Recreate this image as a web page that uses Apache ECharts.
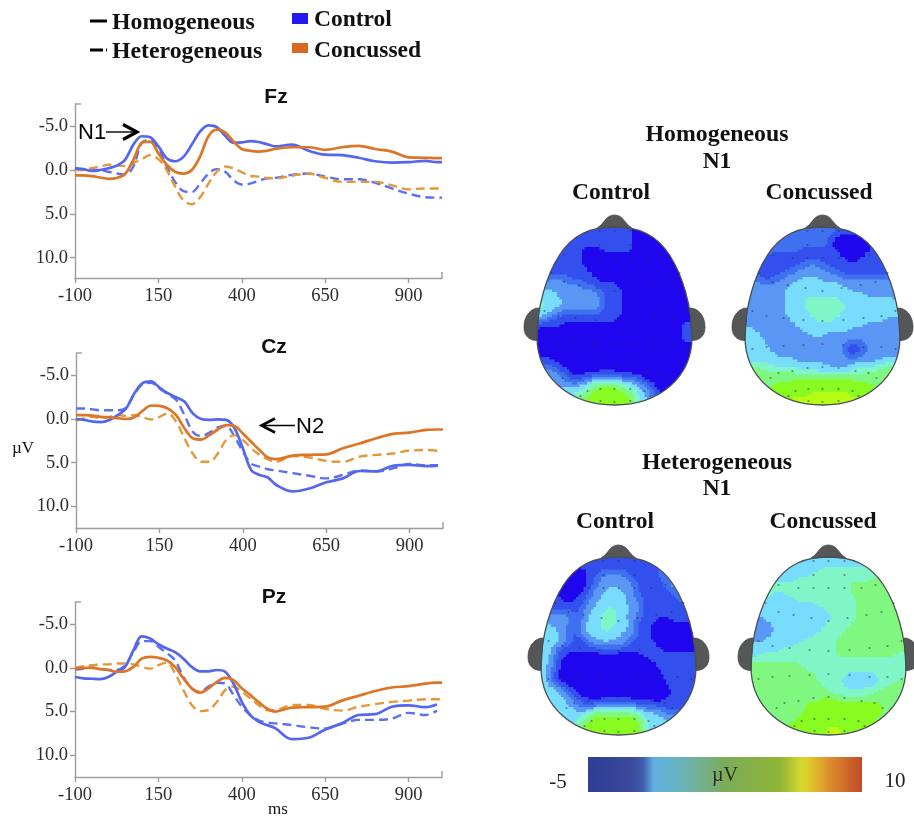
<!DOCTYPE html>
<html><head><meta charset="utf-8">
<style>html,body{margin:0;padding:0;background:#fff}#c{width:914px;height:818px;filter:blur(0.45px)}</style>
<script src="https://cdn.jsdelivr.net/npm/echarts@6/dist/echarts.min.js"></script>
</head><body><div id="c"></div>
<script>
const times=[-100,-75,-50,-25,0,25,50,75,100,125,150,175,200,225,250,275,300,325,350,375,400,425,450,475,500,550,600,650,700,750,800,850,900,950,985,1000];
const xTicks=[-100,150,400,650,900];
const yTicks=[-5,0,5,10];

const fzHomControl=[-0.2,-0.1,0.1,0,-0.2,-0.5,-1.15,-2.9,-3.85,-3.75,-2.7,-1.35,-1,-1.5,-2.9,-4.4,-5.1,-4.9,-3.9,-3.1,-3.15,-3.3,-3.2,-2.95,-2.7,-2.9,-2.2,-1.75,-1.7,-1.4,-1,-0.85,-0.9,-1.05,-0.9,-0.9];
const fzHomConcussed=[0.6,0.6,0.7,0.85,1,0.9,0.45,-1.15,-3.1,-3.25,-1.9,-0.6,0.2,0.4,0,-1.55,-3.85,-4.6,-4.3,-3.25,-2.4,-2.2,-2.1,-2.2,-2.4,-2.6,-2.6,-2.3,-2.6,-2.75,-2.4,-2.1,-1.45,-1.4,-1.35,-1.35];
const fzHetControl=[-0.2,-0.1,0,0,0.2,0.4,0.5,-0.4,-3.1,-3.4,-2.5,-0.4,1.35,2.4,2.5,1.55,0.4,-0.1,0.2,1.15,1.65,1.55,1.25,0.95,0.9,0.55,0.4,0.75,1.05,1.05,1.45,2.1,2.7,3.1,3.15,3.15];
const fzHetConcussed=[0,0,-0.2,-0.4,-0.6,-0.5,-0.45,-0.8,-1.25,-1.7,-1.25,0,1.9,3.45,3.9,3.1,1.55,0.2,-0.4,-0.2,0.25,0.65,0.75,0.9,0.95,0.65,0.4,0.9,1.35,1.35,1.35,1.75,2.2,2.1,2.1,2.1];

const czHomControl=[0,0.1,0.3,0.35,0.1,-0.45,-1.2,-2.95,-4.1,-4.3,-3.6,-2.95,-2.5,-2,-0.65,0,0.1,0.05,0.1,1.05,3.35,5.85,6.4,6.7,7.55,8.3,7.95,7.25,6.8,5.95,6,5.35,5.25,5.4,5.3,null];
const czHomConcussed=[-0.45,-0.45,-0.4,-0.25,-0.2,-0.1,0,-0.2,-0.95,-1.55,-1.5,-1.2,-0.45,1.05,2.2,2.35,1.85,1.2,0.7,0.8,1.65,2.6,3.55,4.4,4.6,4.2,4.1,4.05,3.35,2.8,2.2,1.7,1.55,1.25,1.2,1.2];
const czHetControl=[-1.2,-1.2,-1.1,-1,-1,-1,-1.3,-2.85,-4,-4.15,-3.5,-2.85,-2.2,-0.45,1.45,1.95,1.55,0.95,0.8,2,3.75,5.1,5.45,5.75,5.9,6.2,6.5,6.8,6.4,5.9,6,5.65,5.15,5.3,5.3,null];
const czHetConcussed=[0.2,-0.1,-0.25,-0.1,-0.25,-0.45,-0.35,-0.45,-0.2,0.05,-0.25,-0.65,0.3,2.2,3.95,4.9,4.9,3.95,2.4,1.85,2.4,3.35,4.1,4.6,4.9,4.25,4.4,4.8,4.9,4.3,4.1,3.95,3.6,3.55,3.65,null];

const pzHomControl=[1.05,1.2,1.25,1.3,1.05,0.45,-0.1,-2,-3.6,-3.35,-2.7,-2.2,-1.8,-1.05,-0.1,0.4,0.4,0.25,0.45,1.8,3.9,5.4,6.15,6.55,6.9,8.15,8,7.05,6.35,5.4,5.3,4.45,4.3,4.5,4.2,null];
const pzHomConcussed=[0.1,0,0,0.15,0.25,0.45,0.4,-0.1,-1.05,-1.25,-1.15,-0.85,-0.1,1.2,2.35,2.85,2.35,1.6,1.15,1.4,2.35,3.1,3.9,4.65,5,4.55,4.5,4.45,3.75,3.2,2.65,2.25,2.1,1.8,1.7,1.7];
const pzHetControl=[0.2,0.1,-0.05,0.1,0.25,0.25,-0.3,-1.8,-3.05,-3.05,-2.4,-1.7,-0.85,1.05,2.35,2.75,2.15,1.7,1.8,3.1,4.45,5.4,6,6.25,6.35,6.55,6.8,6.95,6.4,5.95,5.95,5.8,5.15,5.4,4.9,null];
const pzHetConcussed=[0,-0.2,-0.3,-0.4,-0.4,-0.5,-0.5,-0.4,-0.1,0.1,-0.3,-0.6,0.65,2.55,4.25,4.95,4.85,3.9,2.55,2.15,2.75,3.5,4.25,4.85,4.85,4.25,4.25,4.7,4.9,4.45,4.15,3.9,3.75,3.6,3.6,3.6];

// scalp maps: run-length rows "level:count", last run fills the row
const homControlMap=["1:19 0","1:19 0","1:19 0","1:19 0","1:9 0:4 1:6 0","1:9 0:17 1:2 0","1:9 0:18 1:2 0","1:9 0:19 1:2 0","1:10 0:19 1:1 0","1:11 0","1:2 3:4 1:6 0","1:1 3:8 1:7 0","3:1 4:2 3:9 1:5 0","4:4 3:9 1:4 0","5:1 4:4 3:8 1:4 0","6:1 4:4 3:8 1:4 0","5:1 4:3 3:9 1:4 0","4:2 3:2 1:13 0","3:2 1:14 0","1:5 0:24 1","0:29 1","0:29 1","0:29 1","0","0","0","1:3 0","1:4 0","3:4 1:2 0","3:5 1:2 0:5 1:4 0","3:6 1:3 3:2 4:6 3:3 1:1 0","3:9 4:2 6:6 4:3 3:2 1:1 0","4:9 5:2 7:6 6:2 4:2 3:2 1:1 0","4:8 6:2 7:8 6:2 4:2 3:1 1:2 0","6:10 7:9 6:1 4:2 3","6:10 7:9 6:1 4"];
const homConcussedMap=["2","2:18 0:5 1:2 2","2:17 0:8 1:2 2","2:17 0:9 1","2:11 1:7 0:7 1","2:5 1:14 0:5 1","1:20 0:3 1","1:12 3:3 1","1:10 3:7 1","1:8 3:11 1","3:3 1:3 3:5 4:4 3","3:9 4:10 3","3:8 4:13 3","3:8 4:16 3","3:8 4:4 5:7 4:11 3","3:8 4:4 5:8 4","3:8 4:4 5:8 4","3:8 4:5 5:6 4","3:9 4:5 5:4 4:10 3","3:10 4:14 3","4:2 3:9 4:10 3","4:3 3:10 4:3 3","4:4 3","4:4 3:16 1:4 3","4:5 3:15 1:4 3","4:6 3:14 1:3 3","4:10 3:18 4","5:5 4:11 3:6 4:5 5","6:4 5:6 4:11 5:5 6","6:12 5:11 6","6:10 7:12 6","6:6 7:19 6","7","7:13 8:8 7","7:9 8:13 7","8"];
const hetControlMap=["1","1","1:7 0:2 1:15 3:2 1","1:6 0:3 1:3 3:5 1:7 3:2 1","1:5 0:4 1:2 3:7 1:7 3:2 1","1:4 0:5 1:2 3:8 1:6 3:3 1","1:3 0:6 1:1 3:3 4:3 3:3 1:7 3:2 1","1:3 0:5 1:2 3:2 4:5 3:2 1:8 3:2 1","1:4 0:3 1:2 3:3 4:5 3:3 1:8 3:2 1","1:9 3:2 4:6 3:3 1","1:8 3:2 4:3 5:2 4:3 3:2 1","3:6 1:2 3:2 4:2 5:3 4:2 3:3 1","3:7 1:1 3:1 4:3 5:3 4:2 3:2 1:4 0:3 1","4:2 3:4 1:2 3:1 4:3 5:3 4:3 3:1 1:3 0","4:3 3:2 1:2 3:1 4:4 5:2 4:3 3:2 1:3 0","4:4 3:2 1:2 3:1 4:7 3:3 1:3 0","4:4 3:2 1:3 3:2 4:4 3:3 1:4 0","4:3 3:2 1:5 3:7 1:6 0","4:2 3:1 1:21 0","4:2 3:1 1:2 0:15 1","4:2 3:1 1:1 0:18 1","4:1 3:2 0:20 1","4:1 3:2 0:21 1","4:1 3:1 1:1 0:21 1","4:1 3:1 1:1 0:22 1","4:2 3:1 1:1 0:21 1","4:4 3:1 1:1 0:20 1","4:4 3:2 1:1 0:19 1","4:5 3:2 1:3 0:15 1","4:5 3:3 1:3 3:8 1:8 0:2 1","4:7 3:3 4:10 3:4 1","4:9 6:1 7:8 6:2 4:4 3","4:8 6:2 7:9 6:2 4:4 3","4:7 6:2 7:11 6:1 4:5 3","6:9 7:11 6:1 4","6:9 7:11 6:1 4"];
const hetConcussedMap=["4","4:24 5","4:14 5","4:12 5","4:9 5:15 6","5:19 6","5:20 6","5:4 4:3 5:13 6","5:3 4:6 5:12 6","5:2 4:11 5:8 6","4:15 5:6 6","4:16 5:5 6","3:3 4:13 5:5 6","3:4 4:11 5:5 6","3:5 4:9 5:5 6","3:4 4:9 5:5 6","3:3 4:8 5:6 6","4:9 5:8 6","4:6 5:11 6","4:2 5:15 6:12 5","5","6:10 5","6:11 5","6:13 5:6 4:6 5","6:13 5:5 4:8 5:4 6","6:14 5:4 4:7 5:3 6","6:15 5:5 4:2 5:4 6","6:16 5:8 6","6:14 7:4 6","6:11 7:15 6","6:11 7:16 6","6:10 7:16 6","6:9 7:16 6","6:8 7:16 6","7:15 8:3 7","7:15 8:3 7"];
const levelColors=["#1f06ee","#3350ee","#3f70f0","#5a96f3","#78dcfc","#80f6c8","#80f880","#88fc20","#b8fc14"];
const electrodes=[[-15,4],[0,4],[16,4],[-15,18],[16,18],[-50,28],[-30,31],[-15,31],[0,31],[16,31],[33,31],[47,28],[-63,46],[65,46],[-50,55],[-35,58],[-17,61],[0,64],[19,61],[38,58],[53,55],[-70,84],[-56,89],[-39,91],[-19,93],[0,94],[21,93],[41,91],[59,89],[73,84],[-70,122],[-56,120],[-39,119],[-19,118],[0,117],[21,118],[41,120],[59,120],[73,122],[-52,151],[-44,146],[-30,144],[-15,141],[0,140],[16,141],[33,144],[46,146],[54,151],[-34,169],[-27,164],[-14,162],[0,162],[16,162],[30,164],[36,169],[-14,174],[0,175],[16,174]];

const BLUE='#5366f0',ORANGE='#dc7626',ORANGE_D='#e3983a',BLUE_D='#5a70f0';
const panels=[
 {name:'Fz',left:75,top:104,h:174,min:-7.53,max:12.31,hom:[fzHomControl,fzHomConcussed],het:[fzHetControl,fzHetConcussed]},
 {name:'Cz',left:76,top:353,h:175,min:-7.56,max:12.48,hom:[czHomControl,czHomConcussed],het:[czHetControl,czHetConcussed]},
 {name:'Pz',left:75,top:602,h:175,min:-7.53,max:12.49,hom:[pzHomControl,pzHomConcussed],het:[pzHetControl,pzHetConcussed]}
];
const heads=[
 {left:537,top:227,map:homControlMap},
 {left:745,top:227,map:homConcussedMap},
 {left:541,top:557,map:hetControlMap},
 {left:751,top:557,map:hetConcussedMap}
];
const axisGray='#9c9c9c',ink='#2b2b2b';
const grid=[],xAxis=[],yAxis=[],series=[];
panels.forEach((p,i)=>{
 grid.push({left:p.left,top:p.top,width:367,height:p.h});
 xAxis.push({type:'value',gridIndex:i,min:-100,max:1000,splitLine:{show:false},
  axisLine:{onZero:false,lineStyle:{color:axisGray,width:1.4}},
  axisTick:{customValues:xTicks,length:5,lineStyle:{color:axisGray,width:1.4}},
  axisLabel:{customValues:xTicks,color:ink,fontFamily:'Liberation Serif',fontSize:18.5,margin:9}});
 yAxis.push({type:'value',gridIndex:i,inverse:true,min:p.min,max:p.max,splitLine:{show:false},
  axisLine:{onZero:false,lineStyle:{color:axisGray,width:1.4}},
  axisTick:{customValues:yTicks,length:5,lineStyle:{color:axisGray,width:1.4}},
  axisLabel:{customValues:yTicks,color:ink,fontFamily:'Liberation Serif',fontSize:18.5,margin:7,formatter:v=>Number(v).toFixed(1)}});
 const line=(vals,color,dash,w,name)=>series.push({type:'line',name:name,xAxisIndex:i,yAxisIndex:i,
  data:times.map((t,k)=>[t,vals[k]]),smooth:0.35,showSymbol:false,connectNulls:false,animation:false,clip:false,
  lineStyle:{color:color,width:w,type:dash?[9,5]:'solid'},silent:true});
 line(p.het[0],BLUE_D,true,2.4,p.name+' Heterogeneous Control');
 line(p.het[1],ORANGE_D,true,2.4,p.name+' Heterogeneous Concussed');
 line(p.hom[0],BLUE,false,2.7,p.name+' Homogeneous Control');
 line(p.hom[1],ORANGE,false,2.7,p.name+' Homogeneous Concussed');
});
// parse rows, soften the cell edges, then draw contour bands at half-cell resolution
const expand=rows=>{
 const G=rows.map(row=>{const a=[];row.split(' ').forEach(tok=>{const [l,n]=tok.split(':');const cnt=n===undefined?31-a.length:+n;
  for(let k=0;k<cnt&&a.length<31;k++)a.push(+l);});while(a.length<31)a.push(a[a.length-1]);return a;});
 const raw=(r,c)=>G[Math.max(0,Math.min(35,r))][Math.max(0,Math.min(30,c))];
 const S=G.map((row,r)=>row.map((_,c)=>{let s=0;[-1,0,1].forEach(i=>[-1,0,1].forEach(j=>{s+=(i?1:2)*(j?1:2)*raw(r+i,c+j);}));return s/16;}));
 const at=(r,c)=>S[Math.max(0,Math.min(35,r))][Math.max(0,Math.min(30,c))];
 const out=[];
 for(let sy=0;sy<72;sy++){
  const y=(sy+.5)/2-.5,r0=Math.floor(y),fy=y-r0;let start=0,cur=null;
  for(let sx=0;sx<=62;sx++){
   let lvl=-1;
   if(sx<62){const x=(sx+.5)/2-.5,c0=Math.floor(x),fx=x-c0;
    lvl=Math.round(at(r0,c0)*(1-fx)*(1-fy)+at(r0,c0+1)*fx*(1-fy)+at(r0+1,c0)*(1-fx)*fy+at(r0+1,c0+1)*fx*fy);}
   if(lvl!==cur){if(cur!==null)out.push([start/2,sy/2,cur,(sx-start)/2]);cur=lvl;start=sx;}
  }
 }
 return out;};
heads.forEach((h,n)=>{
 const i=panels.length+n;
 grid.push({left:h.left,top:h.top,width:155,height:180});
 xAxis.push({type:'value',gridIndex:i,min:0,max:31,show:false});
 yAxis.push({type:'value',gridIndex:i,min:0,max:36,inverse:true,show:false});
 series.push({type:'custom',xAxisIndex:i,yAxisIndex:i,z:2,animation:false,silent:true,clip:true,
  data:expand(h.map),encode:{x:0,y:1},
  renderItem:(params,api)=>{const c=api.value(0),r=api.value(1),a=api.coord([c,r]),b=api.coord([c+api.value(3),r+.5]);
   return {type:'rect',shape:{x:a[0],y:a[1],width:b[0]-a[0]+0.6,height:b[1]-a[1]+0.6},style:{fill:levelColors[api.value(2)]}};}});
 series.push({type:'scatter',xAxisIndex:i,yAxisIndex:i,z:6,animation:false,silent:true,symbolSize:2.2,
  itemStyle:{color:'rgba(40,50,60,0.65)'},
  data:electrodes.map(e=>[(e[0]+77.5)/5,e[1]/5])});
});
const HEAD='M0 0C25 0 42 8 55 28C68 48 77.5 80 77.5 110C77.5 150 45 178 0 178C-45 178 -77.5 150 -77.5 110C-77.5 80 -68 48 -55 28C-42 8 -25 0 0 0Z';
const MASK='M-81 -4L-81 184L81 184L81 -4Z '+HEAD;
const EARL='M-75.5 81C-83 81 -90.5 88 -90.5 100C-90.5 110 -84 113.5 -77.5 113.5Z';
const EARR='M75.5 81C83 81 90.5 88 90.5 100C90.5 110 84 113.5 77.5 113.5Z';
const NOSE='M-17 0.5C-10 -3 -9 -12 0 -12C9 -12 10 -3 17 0.5Z';
series.push({type:'custom',coordinateSystem:'none',z:4,animation:false,silent:true,data:[[0]],
 renderItem:()=>{const kids=[];
  heads.forEach(h=>{const x=h.left+77.5,y=h.top;
   kids.push({type:'path',x,y,shape:{pathData:MASK},style:{fill:'#fff'}});
   [EARL,EARR,NOSE].forEach(d=>kids.push({type:'path',x,y,shape:{pathData:d},style:{fill:'#555657',stroke:'#484848',lineWidth:0.8}}));
   kids.push({type:'path',x,y,shape:{pathData:HEAD},style:{fill:null,stroke:'#4a4f50',lineWidth:1.3}});
  });
  return {type:'group',children:kids};}});

const SERIF='"Liberation Serif"',SANS='"Liberation Sans"';
const T=(text,x,y,size,weight,fam,align,fill)=>({type:'text',z:20,silent:true,style:{text,x,y,font:`${weight||'normal'} ${size}px ${fam||SERIF}`,fill:fill||'#111',textAlign:align||'center',textVerticalAlign:'middle',align:align||'center',verticalAlign:'middle'}});
const L=(x1,y1,x2,y2,c,w)=>({type:'line',z:20,silent:true,shape:{x1,y1,x2,y2},style:{stroke:c,lineWidth:w}});
const P=(pts,c,w)=>({type:'polyline',z:20,silent:true,shape:{points:pts},style:{stroke:c,lineWidth:w,fill:null}});
const R=(x,y,w,h,f)=>({type:'rect',z:20,silent:true,shape:{x,y,width:w,height:h},style:{fill:f}});
const gfx=[
 L(90,21,107,21,'#000',3),L(90,50,103,50,'#000',3),L(106,50,107,50,'#000',3),
 T('Homogeneous',112,23,23.8,'bold',SERIF,'left'),T('Heterogeneous',112,52,23.8,'bold',SERIF,'left'),
 R(292,13,16,11,'#2418f0'),R(292,43,16,10,'#d86a20'),
 T('Control',314,20,23.5,'bold',SERIF,'left'),T('Concussed',314,51,23.5,'bold',SERIF,'left'),
 T('Fz',276,97,21,'bold',SANS),T('Cz',274,347,21,'bold',SANS),T('Pz',274,597,21,'bold',SANS),
 T('µV',23,449,17,'normal',SERIF),T('ms',278,810,17,'normal',SERIF),
 T('N1',78,133,22,'normal',SANS,'left','#000'),L(106,132,136,132,'#000',1.4),P([[123,124.5],[137,132],[123,139.5]],'#000',3.2),
 T('N2',296,427,22,'normal',SANS,'left','#000'),L(262,425.5,295,425.5,'#000',1.4),P([[275,418.5],[261.5,425.5],[275,432.5]],'#000',2.6),
 T('Homogeneous',717,135,23.8,'bold'),T('N1',717,162,23.5,'bold'),T('Control',611,193,23.5,'bold'),T('Concussed',819,193,23.5,'bold'),
 T('Heterogeneous',717,463,23.8,'bold'),T('N1',717,489,23.5,'bold'),T('Control',615,522,23.5,'bold'),T('Concussed',823,522,23.5,'bold'),
 {type:'rect',z:20,silent:true,shape:{x:588,y:757,width:274,height:35},style:{fill:{type:'linear',x:0,y:0,x2:1,y2:0,colorStops:[
  {offset:0,color:'#2e3d95'},{offset:0.16,color:'#3b4a9c'},{offset:0.2,color:'#3f5cae'},{offset:0.24,color:'#62aee0'},{offset:0.3,color:'#64b4cc'},{offset:0.4,color:'#74b09a'},{offset:0.5,color:'#7cac58'},{offset:0.7,color:'#8fb436'},{offset:0.78,color:'#d4d82e'},{offset:0.8,color:'#dfcf2a'},{offset:0.88,color:'#dc8e2c'},{offset:1,color:'#c24a28'}]}}},
 T('µV',725,776,20,'normal',SERIF,'center','#2a2a2a'),T('-5',558,782,21,'normal',SERIF,'center','#222'),T('10',895,781,21,'normal',SERIF,'center','#222')
];
panels.forEach(p=>{gfx.push(L(p.left,p.top,p.left+6,p.top,axisGray,1.4));gfx.push(L(p.left+367,p.top+p.h,p.left+367,p.top+p.h-6,axisGray,1.4));});

const chart=echarts.init(document.getElementById('c'),null,{renderer:'canvas',width:914,height:818});
chart.setOption({animation:false,backgroundColor:'#fff',tooltip:{show:false},grid,xAxis,yAxis,series,graphic:{elements:gfx}});
</script></body></html>
